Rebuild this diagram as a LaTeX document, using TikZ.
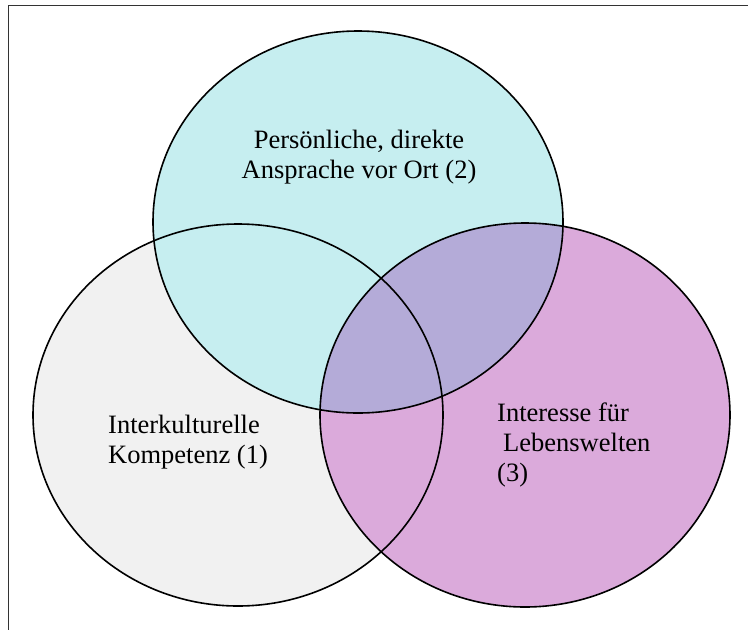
\documentclass[tikz,border=0pt]{standalone}
\usepackage{fontspec}
\setmainfont{Liberation Serif}
\definecolor{greyfill}{HTML}{F1F1F1}
\definecolor{cyanfill}{HTML}{C6EEF0}
\definecolor{purplefill}{HTML}{DBAADB}
\definecolor{mixfill}{HTML}{B4ABD8}
\tikzset{
  venn/.style={draw=black, line width=1.6pt},
  lbl/.style={font=\fontsize{26.5}{30}\selectfont, inner sep=0pt},
}
\begin{document}
\begin{tikzpicture}[x=1pt,y=-1pt]
\useasboundingbox (0,0) rectangle (748,630);
% frame (only top and left edges visible)
\draw[line width=1.6pt, draw=black!80] (748,5.5) -- (8.5,5.5) -- (8.5,630);
% fills
\fill[greyfill] (238,415) ellipse [x radius=205, y radius=191];
\fill[cyanfill] (358,222) ellipse [x radius=205, y radius=191];
\fill[purplefill] (525,415) ellipse [x radius=205, y radius=192];
\begin{scope}
  \clip (358,222) ellipse [x radius=205, y radius=191];
  \fill[mixfill] (525,415) ellipse [x radius=205, y radius=192];
\end{scope}
% outlines
\draw[venn] (238,415) ellipse [x radius=205, y radius=191];
\draw[venn] (358,222) ellipse [x radius=205, y radius=191];
\draw[venn] (525,415) ellipse [x radius=205, y radius=192];
% labels (base anchor = baseline of last line)
\node[lbl, align=center, anchor=base] (t2) at (359,178) {Persönliche, direkte\\Ansprache vor Ort (2)};
\node[lbl, align=left, anchor=base west] (t1) at (108,463) {Interkulturelle\\Kompetenz (1)};
\node[lbl, align=left, anchor=base west] (t3) at (497,481) {Interesse für\\\hspace{6pt}Lebenswelten\\(3)};
\end{tikzpicture}
\end{document}
